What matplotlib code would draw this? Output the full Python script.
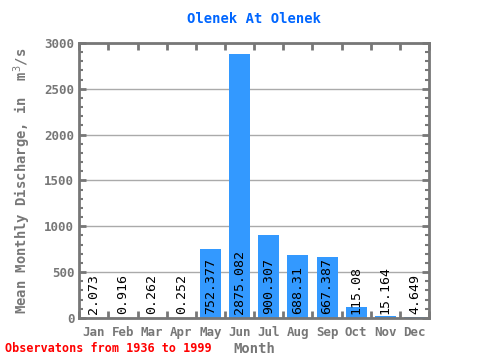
import numpy as np
import matplotlib
matplotlib.use('Agg')
import matplotlib.pyplot as plt
from matplotlib.ticker import MultipleLocator

months = ['Jan', 'Feb', 'Mar', 'Apr', 'May', 'Jun', 'Jul', 'Aug', 'Sep', 'Oct', 'Nov', 'Dec']
discharge = [2.073, 0.916, 0.262, 0.252, 752.377, 2875.082, 900.307, 688.31, 667.387, 115.08, 15.164, 4.649]
value_labels = ['2.073', '0.916', '0.262', '0.252', '752.377', '2875.082', '900.307',
                '688.31', '667.387', '115.08', '15.164', '4.649']

plt.rcParams['font.family'] = ['DejaVu Sans Mono']
grey = '#777777'

fig = plt.figure(figsize=(4.8, 3.6), dpi=100)
ax = fig.add_axes([0.165, 0.117, 0.729, 0.764])

x = np.arange(len(months))
ax.bar(x, discharge, width=0.72, color='#3399ff', zorder=2)
for xi, lab in zip(x, value_labels):
    ax.text(xi, 40, lab, rotation=90, ha='center', va='bottom', fontsize=9.5,
            color='black', zorder=3)

ax.set_xlim(-0.5, 11.5)
ax.set_ylim(0, 3000)
ax.yaxis.set_major_locator(MultipleLocator(500))
ax.yaxis.set_minor_locator(MultipleLocator(100))
ax.set_xticks(x)
ax.set_xticklabels(months)
ax.set_xticks(np.arange(-0.5, 12, 1), minor=True)
ax.grid(axis='y', color='#aaaaaa', linewidth=1, zorder=1)

for s in ax.spines.values():
    s.set_color(grey)
    s.set_linewidth(2)
ax.tick_params(axis='x', which='major', length=0, pad=6, labelsize=9, labelcolor=grey)
ax.tick_params(axis='x', which='minor', direction='in', length=5, width=2, color=grey,
               top=True, bottom=True)
ax.tick_params(axis='y', which='major', direction='in', length=5, width=2, color=grey,
               left=True, right=True, labelsize=9, labelcolor=grey)
ax.tick_params(axis='y', which='minor', direction='in', length=3, width=1.5, color=grey,
               left=True, right=True)
for lab in ax.get_xticklabels() + ax.get_yticklabels():
    lab.set_fontweight('bold')

ax.set_title('Olenek At Olenek', color='#0066ff', fontsize=10, fontweight='bold', pad=14)
ax.set_xlabel('Month', color=grey, fontsize=10, fontweight='bold', labelpad=2)
ax.set_ylabel('Mean Monthly Discharge, in  m$^{3}$/s', color=grey, fontsize=10,
              fontweight='bold', labelpad=8)
fig.text(0.01, 0.022, 'Observatons from 1936 to 1999', color='red', fontsize=8.5,
         fontweight='bold')

fig.savefig('out.png', dpi=100)
